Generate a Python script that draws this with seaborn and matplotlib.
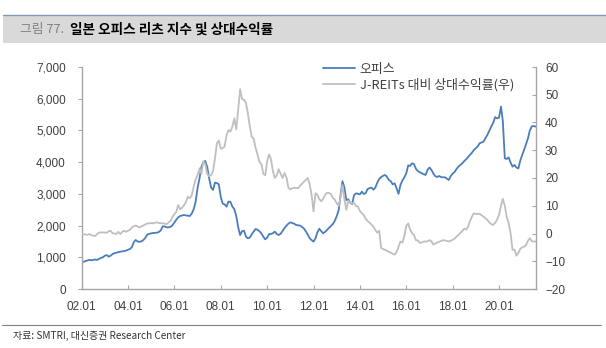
import numpy as np
import pandas as pd
import matplotlib
matplotlib.use("Agg")
import matplotlib.pyplot as plt
from matplotlib.patches import Rectangle
from matplotlib.lines import Line2D
import seaborn as sns

# Monthly observations, 2002.01 - 2021.08
months = pd.date_range("2002-01-01", "2021-08-01", freq="MS")

# Japan office REIT index (left axis)
office_index = [
    830, 860, 880, 900, 920, 905, 915, 930, 915, 950, 980, 1000,          # 2002
    1050, 1070, 1020, 1050, 1100, 1130, 1145, 1160, 1177, 1185, 1198, 1210,  # 2003
    1240, 1261, 1320, 1480, 1545, 1495, 1490, 1503, 1550, 1620, 1720, 1740,  # 2004
    1755, 1766, 1770, 1776, 1800, 1850, 1980, 1970, 1945, 1945, 1960, 2010,  # 2005
    2100, 2190, 2260, 2302, 2320, 2334, 2320, 2310, 2302, 2380, 2520, 2754,  # 2006
    3200, 3500, 3850, 4000, 4037, 3850, 3500, 3200, 3122, 3354, 3340, 3300,  # 2007
    2900, 2690, 2670, 2596, 2754, 2750, 2600, 2520, 2300, 1950, 1700, 1820,  # 2008
    1839, 1650, 1600, 1618, 1720, 1808, 1892, 1870, 1820, 1755, 1650, 1566,  # 2009
    1620, 1734, 1734, 1760, 1808, 1734, 1703, 1740, 1830, 1920, 1997, 2060,  # 2010
    2102, 2080, 2060, 2018, 2010, 2000, 1960, 1913, 1820, 1720, 1600, 1545,  # 2011
    1493, 1598, 1780, 1900, 1830, 1755, 1800, 1860, 1930, 1990, 2050, 2150,  # 2012
    2300, 2491, 2950, 3400, 3200, 2800, 2828, 2722, 2680, 2964, 3017, 3000,  # 2013
    2985, 3070, 2996, 3020, 3150, 3180, 3196, 3130, 3200, 3350, 3470, 3530,  # 2014
    3570, 3595, 3543, 3437, 3400, 3300, 3333, 3175, 3000, 3280, 3420, 3520,  # 2015
    3650, 3900, 3880, 3963, 3942, 3790, 3720, 3680, 3648, 3620, 3595, 3760,  # 2016
    3830, 3753, 3648, 3560, 3530, 3564, 3530, 3522, 3522, 3480, 3437, 3560,  # 2017
    3640, 3690, 3780, 3858, 3910, 3963, 4030, 4090, 4160, 4230, 4299, 4383,  # 2018
    4440, 4500, 4594, 4620, 4646, 4750, 4856, 4990, 5120, 5240, 5420, 5382,  # 2019
    5400, 5750, 5300, 4121, 4100, 4150, 3990, 3858, 3911, 3830, 3800, 4050,  # 2020
    4226, 4400, 4560, 4750, 5000, 5130, 5140, 5120,                          # 2021
]

# Return relative to the J-REIT index, %p (right axis)
relative_return = [
    -0.2, -0.3, -0.3, -0.5, -0.2, -0.6, -0.8, -0.9, -0.2, 0.3, 0.4, 0.4,     # 2002
    0.3, 0.3, 0.8, 1.0, 0.1, 0.0, -0.2, 0.6, -0.2, 0.6, 1.0, 0.6,            # 2003
    1.0, 1.3, 2.2, 2.6, 2.9, 2.5, 2.2, 2.6, 2.9, 3.3, 3.6, 3.7,              # 2004
    3.7, 3.7, 3.9, 4.0, 3.8, 3.7, 3.7, 3.5, 3.4, 4.0, 4.6, 6.0,              # 2005
    7.0, 7.9, 10.3, 8.7, 9.3, 10.2, 11.3, 13.3, 12.7, 13.8, 17.0, 19.5,      # 2006
    21.1, 23.5, 21.5, 26.0, 25.0, 21.5, 20.6, 21.0, 22.5, 27.0, 32.5, 33.5,  # 2007
    30.5, 30.8, 31.3, 35.5, 37.3, 36.7, 38.5, 41.5, 37.5, 44.5, 52.0, 48.4,  # 2008
    48.2, 47.0, 43.5, 38.8, 34.9, 34.2, 31.0, 28.5, 25.8, 25.1, 21.5, 21.0,  # 2009
    26.0, 28.5, 26.8, 22.5, 20.0, 21.0, 23.2, 21.5, 20.0, 21.8, 20.2, 16.5,  # 2010
    15.9, 16.3, 16.5, 16.4, 16.3, 17.2, 17.9, 18.6, 19.3, 20.0, 17.8, 14.0,  # 2011
    8.0, 14.5, 14.0, 12.4, 11.6, 12.5, 13.9, 14.7, 14.6, 14.2, 12.8, 12.2,   # 2012
    10.9, 9.9, 13.0, 17.5, 12.5, 8.5, 11.8, 11.2, 10.9, 11.0, 9.9, 9.7,      # 2013
    8.1, 7.3, 6.7, 5.3, 4.5, 3.9, 3.2, 2.5, 1.2, 0.3, 1.0, -5.2,             # 2014
    -5.6, -5.9, -6.2, -6.6, -6.9, -7.3, -7.6, -6.7, -4.8, -2.9, -3.3, -1.0,  # 2015
    2.8, 3.6, 1.4, 0.1, -0.5, -2.4, -2.5, -3.4, -3.2, -2.9, -2.9, -2.8,      # 2016
    -2.4, -2.8, -4.0, -3.6, -3.3, -3.0, -2.7, -2.4, -2.5, -2.7, -2.9, -2.6,  # 2017
    -2.3, -1.8, -1.2, -0.5, 0.2, 0.9, 1.7, 1.4, 2.5, 4.5, 6.1, 7.3,          # 2018
    7.0, 7.1, 7.1, 6.6, 6.1, 5.5, 4.9, 4.0, 3.4, 3.1, 3.8, 5.0,              # 2019
    6.7, 10.0, 12.5, 10.0, 6.0, 3.7, 0.1, -5.9, -5.8, -8.0, -7.0, -5.5,      # 2020
    -5.0, -4.7, -4.2, -2.6, -1.7, -2.8, -2.9, -2.9,                          # 2021
]

left_ticks = [0, 1000, 2000, 3000, 4000, 5000, 6000, 7000]
right_ticks = [-20, -10, 0, 10, 20, 30, 40, 50, 60]
x_tick_dates = pd.to_datetime([f"{y}-01-01" for y in range(2002, 2021, 2)])
x_tick_labels = [d.strftime("%y.%m") for d in x_tick_dates]
series_labels = ["오피스", "J-REITs 대비 상대수익률(우)"]
title_prefix = "그림 77."
title_main = "일본 오피스 리츠 지수 및 상대수익률"
source_text = "자료: SMTRI, 대신증권 Research Center"

BLUE = "#4A7EBB"
GRAY = "#BFBFBF"
SPINE = "#A6A6A6"
LABEL = "#404040"

sns.set_theme(style="ticks")
plt.rcParams["font.family"] = ["Liberation Sans", "Noto Sans CJK KR"]
plt.rcParams["axes.unicode_minus"] = True

df = pd.DataFrame({"date": months, "office": office_index, "relative": relative_return})

W, H = 606, 348
fig = plt.figure(figsize=(W / 100, H / 100), dpi=100)
fig.patch.set_facecolor("white")

# plot area in pixel terms: x 81.7..535.7, y 67..289 (from top)
ax = fig.add_axes([81.7 / W, (H - 289) / H, 454 / W, 222 / H])
sns.lineplot(data=df, x="date", y="office", ax=ax, color=BLUE, lw=1.3)
ax2 = ax.twinx()
sns.lineplot(data=df, x="date", y="relative", ax=ax2, color=GRAY, lw=1.3)

ax.set_xlim(months[0], months[-1])
ax.set_ylim(0, 7000)
ax2.set_ylim(-20, 60)
ax.set_yticks(left_ticks)
ax.set_yticklabels([f"{v:,}" for v in left_ticks])
ax2.set_yticks(right_ticks)
ax.set_xticks(x_tick_dates)
ax.set_xticklabels(x_tick_labels)
for a in (ax, ax2):
    a.set_xlabel("")
    a.set_ylabel("")

for name in ("top", "right"):
    ax.spines[name].set_visible(False)
for name in ("top", "left", "bottom"):
    ax2.spines[name].set_visible(False)
for sp in (ax.spines["left"], ax.spines["bottom"], ax2.spines["right"]):
    sp.set_color(SPINE)
    sp.set_linewidth(1.0)

ax.tick_params(axis="y", direction="out", length=3, width=0.8, color=SPINE,
               pad=8.4, labelsize=8.5, labelcolor=LABEL)
ax.tick_params(axis="x", direction="in", length=3, width=0.8, color=SPINE,
               pad=8.5, labelsize=8.5, labelcolor=LABEL)
ax2.tick_params(axis="y", direction="in", length=3, width=0.8, color=SPINE,
                pad=6.7, labelsize=8.5, labelcolor=LABEL)

handles = [Line2D([], [], color=BLUE, lw=1.3), Line2D([], [], color=GRAY, lw=1.3)]
ax2.legend(handles, series_labels, loc="upper left", bbox_to_anchor=(0.531, 1.02),
           frameon=False, prop={"family": ["Noto Sans CJK KR"], "size": 9.3},
           handlelength=2.5, handletextpad=0.35, labelspacing=0.2,
           borderpad=0, borderaxespad=0, labelcolor=LABEL)

# title banner
fig.patches.append(Rectangle((3 / W, 1 - 43 / H), 603 / W, 28 / H,
                             transform=fig.transFigure, facecolor="#D9D9D9",
                             edgecolor="none", zorder=0))
fig.lines.append(Line2D([3 / W, 1], [1 - 15 / H] * 2, transform=fig.transFigure,
                        color="#8097B5", lw=1.0))
fig.text(20 / W, 1 - 29.5 / H, title_prefix, color="#808080", fontsize=9.2,
         va="center", ha="left", family=["Noto Sans CJK KR"])
fig.text(70 / W, 1 - 29.5 / H, title_main, color="black", fontsize=9.8,
         fontweight="bold", va="center", ha="left", family=["Noto Sans CJK KR"])

# source line
fig.lines.append(Line2D([2 / W, 601 / W], [1 - 325 / H] * 2, transform=fig.transFigure,
                        color="#808080", lw=0.8))
fig.text(13 / W, 1 - 336 / H, source_text, color="#333333", fontsize=7.2,
         va="center", ha="left", family=["Noto Sans CJK KR"])

fig.savefig("out.png", dpi=100)
